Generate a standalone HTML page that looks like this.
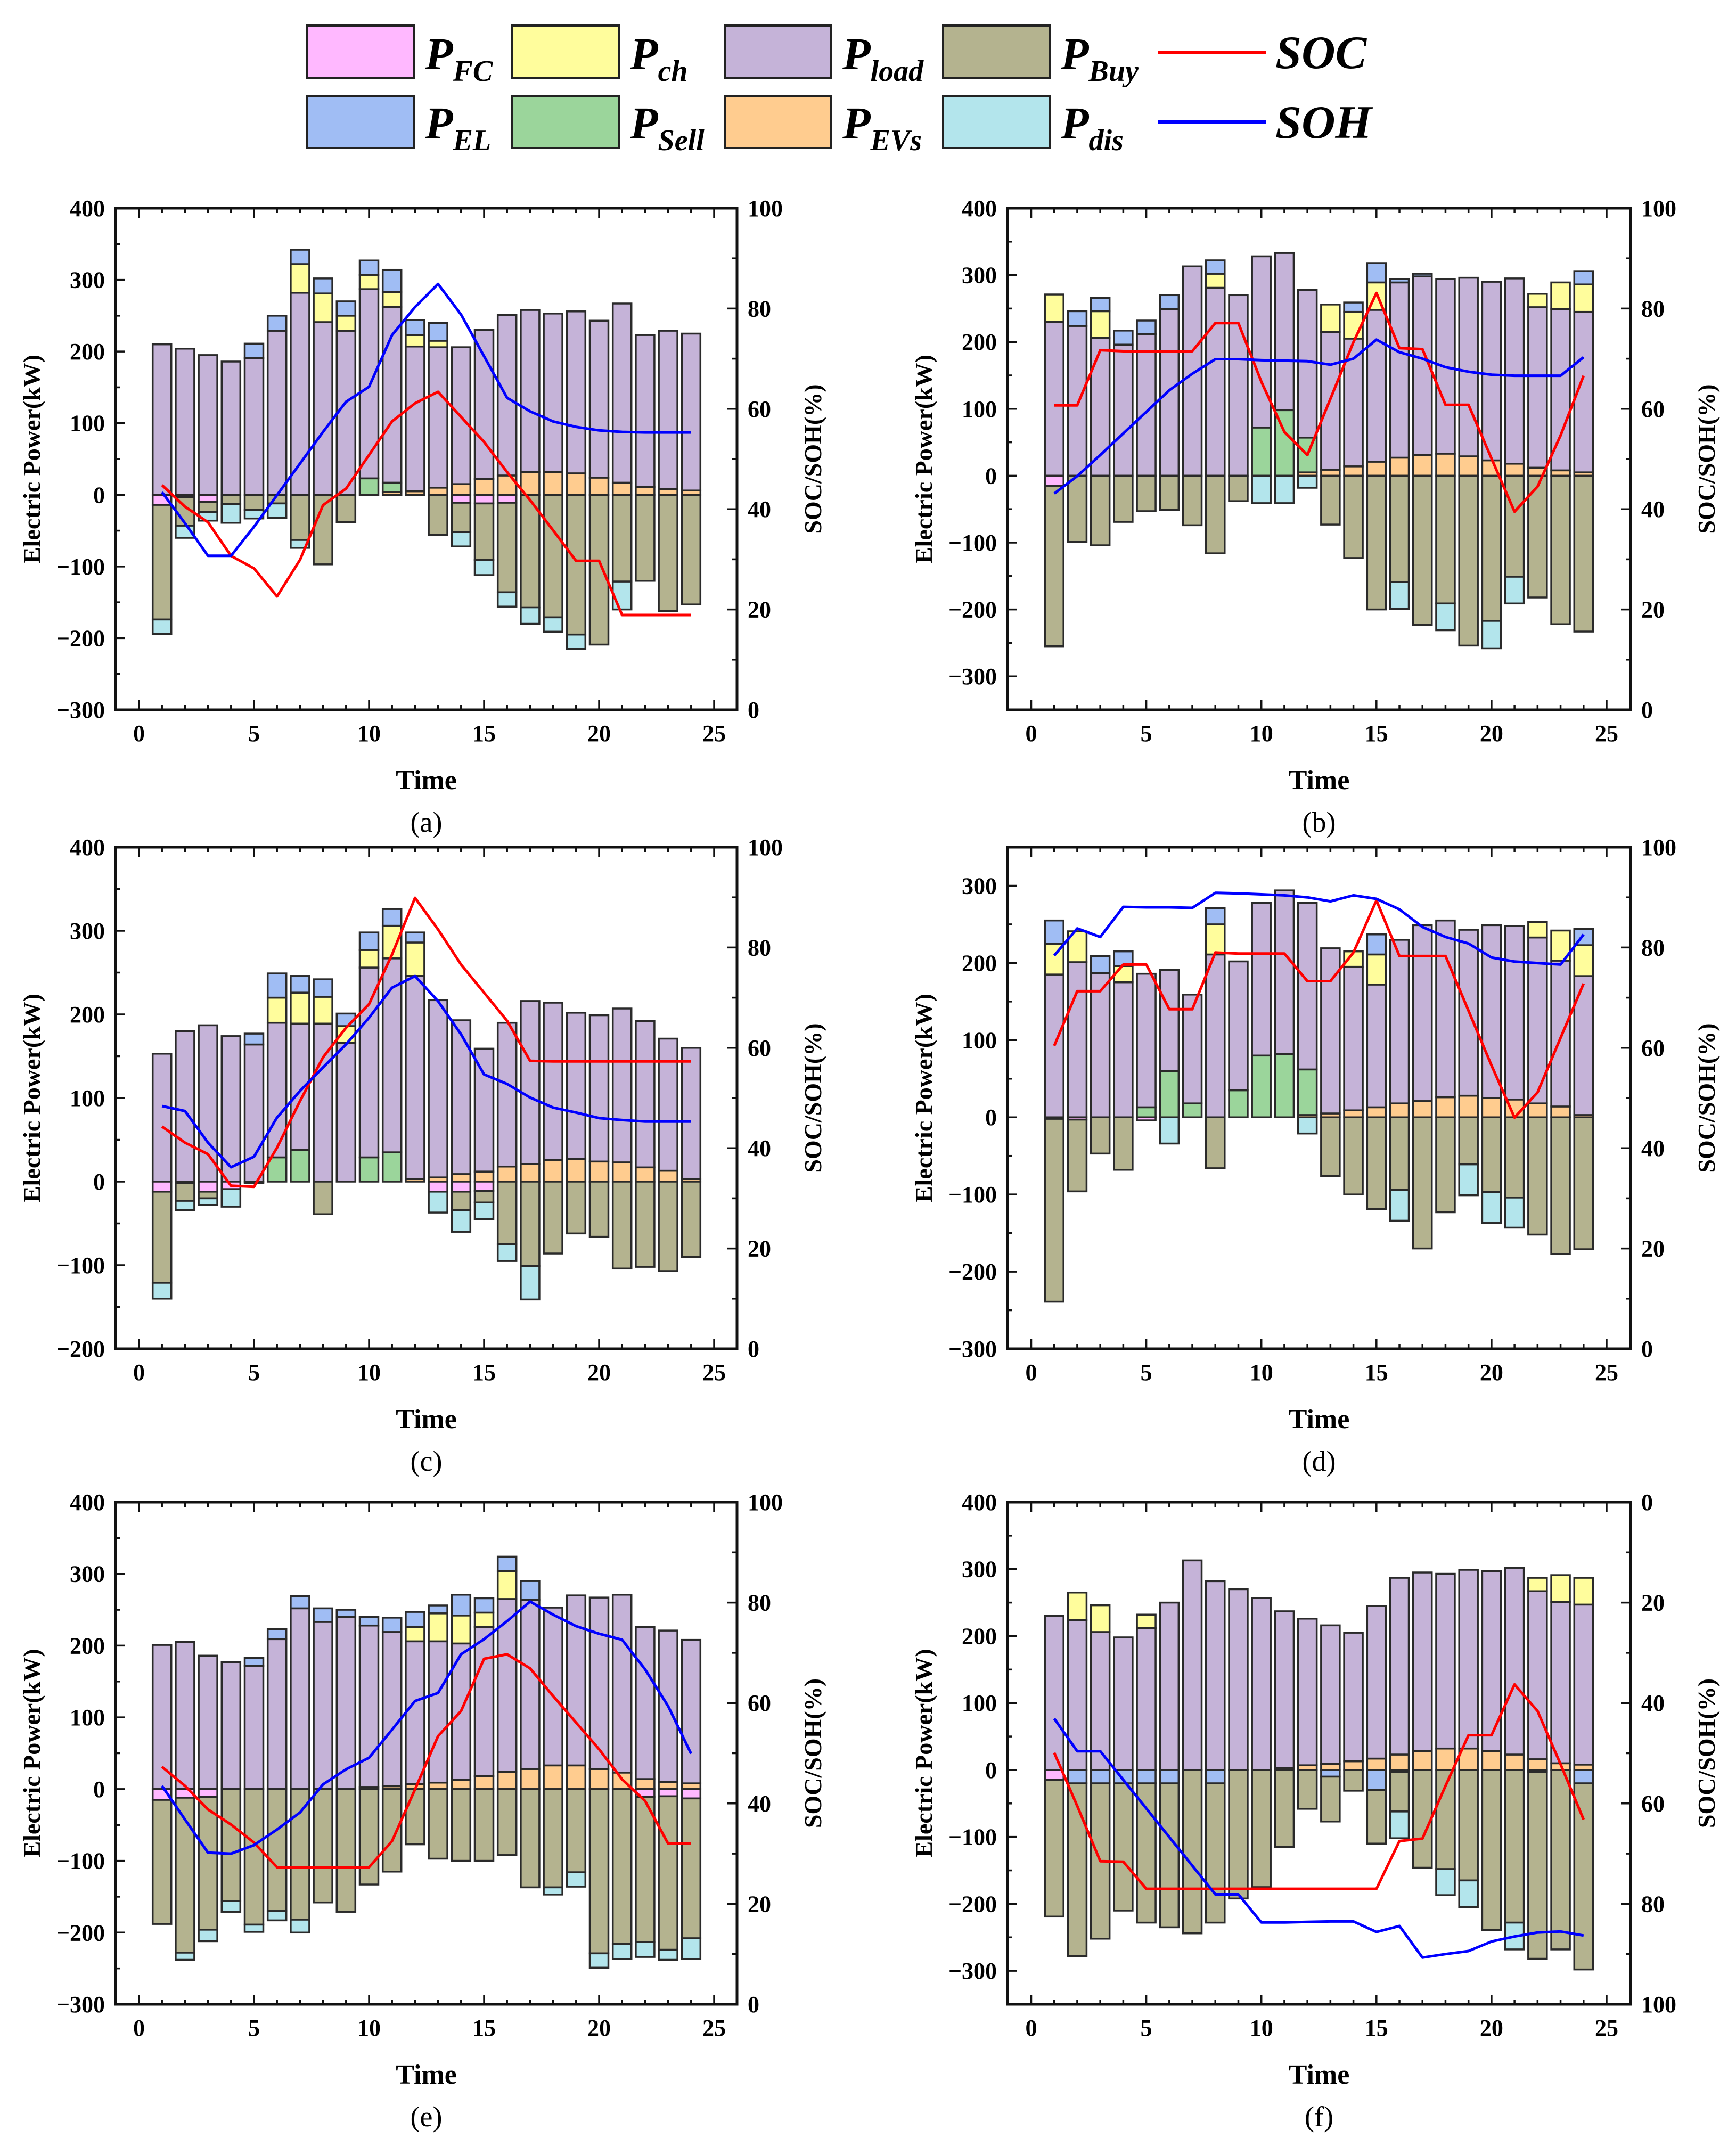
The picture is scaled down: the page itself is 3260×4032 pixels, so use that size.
<!DOCTYPE html>
<html><head><meta charset="utf-8"><title>Energy dispatch charts</title>
<style>
html,body{margin:0;padding:0;background:#fff;}
svg{display:block;}
.tk{font-family:"Liberation Serif",serif;font-weight:bold;font-size:44px;fill:#000;}
.ttl{font-family:"Liberation Serif",serif;font-weight:bold;font-size:52px;fill:#000;}
.cap{font-family:"Liberation Serif",serif;font-size:54px;fill:#000;}
.lg{font-family:"Liberation Serif",serif;font-weight:bold;font-style:italic;fill:#000;}
</style></head>
<body>
<svg id="chart" xmlns="http://www.w3.org/2000/svg" width="3260" height="4032" viewBox="0 0 3260 4032">
<rect x="0" y="0" width="3260" height="4032" fill="#fff"/>
<g>
 <rect x="577" y="48" width="200" height="99" fill="#FFB8FF" stroke="#222" stroke-width="4"/>
 <text class="lg" x="798" y="130" font-size="86">P<tspan font-size="56" dy="22">FC</tspan></text>
 <rect x="962" y="48" width="200" height="99" fill="#FFFD9C" stroke="#222" stroke-width="4"/>
 <text class="lg" x="1183" y="130" font-size="86">P<tspan font-size="56" dy="22">ch</tspan></text>
 <rect x="1361" y="48" width="200" height="99" fill="#C5B3D8" stroke="#222" stroke-width="4"/>
 <text class="lg" x="1582" y="130" font-size="86">P<tspan font-size="56" dy="22">load</tspan></text>
 <rect x="1771" y="48" width="200" height="99" fill="#B4B38F" stroke="#222" stroke-width="4"/>
 <text class="lg" x="1992" y="130" font-size="86">P<tspan font-size="56" dy="22">Buy</tspan></text>
 <line x1="2174" y1="98" x2="2378" y2="98" stroke="#FF0000" stroke-width="6"/>
 <text class="lg" x="2395" y="128" font-size="88">SOC</text>
 <rect x="577" y="180" width="200" height="98" fill="#A0BDF4" stroke="#222" stroke-width="4"/>
 <text class="lg" x="798" y="260" font-size="86">P<tspan font-size="56" dy="22">EL</tspan></text>
 <rect x="962" y="180" width="200" height="98" fill="#9BD59B" stroke="#222" stroke-width="4"/>
 <text class="lg" x="1183" y="260" font-size="86">P<tspan font-size="56" dy="22">Sell</tspan></text>
 <rect x="1361" y="180" width="200" height="98" fill="#FFCC8F" stroke="#222" stroke-width="4"/>
 <text class="lg" x="1582" y="260" font-size="86">P<tspan font-size="56" dy="22">EVs</tspan></text>
 <rect x="1771" y="180" width="200" height="98" fill="#B3E5EC" stroke="#222" stroke-width="4"/>
 <text class="lg" x="1992" y="260" font-size="86">P<tspan font-size="56" dy="22">dis</tspan></text>
 <line x1="2174" y1="229" x2="2378" y2="229" stroke="#0000FF" stroke-width="6"/>
 <text class="lg" x="2395" y="259" font-size="88">SOH</text>
</g>
</svg>
<script>
const hours = [1,2,3,4,5,6,7,8,9,10,11,12,13,14,15,16,17,18,19,20,21,22,23,24];

// ---- panel (a)
const a_EVs  = [0,0,0,0,0,0,0,0,0,0,4,5,10,15,22,27,32,32,30,24,17,11,8,6];
const a_Sell = [0,0,0,0,0,0,0,0,0,23,13,0,0,0,0,0,0,0,0,0,0,0,0,0];
const a_load = [210,204,195,186,191,229,282,241,229,264,245,202,196,191,208,224,226,221,226,219,250,212,221,219];
const a_ch   = [0,0,0,0,0,0,40,40,21,20,21,16,9,0,0,0,0,0,0,0,0,0,0,0];
const a_EL   = [0,0,0,0,20,21,20,21,20,20,31,21,25,0,0,0,0,0,0,0,0,0,0,0];
const a_FC   = [-14,-3,-10,0,0,0,0,0,0,0,0,0,0,-11,-12,-11,0,0,0,0,0,0,0,0];
const a_Buy  = [-160,-40,-14,-13,-21,-12,-63,-97,-38,0,0,0,-56,-41,-79,-125,-157,-171,-195,-209,-121,-120,-162,-153];
const a_dis  = [-20,-17,-12,-26,-12,-20,-11,0,0,0,0,0,0,-20,-21,-20,-23,-20,-20,0,-39,0,0,0];
const a_SOC  = [44.8,40.5,37.4,30.7,28.2,22.6,29.9,40.8,44.1,50.8,57.5,61.1,63.4,58.4,53.4,47.4,41.8,35.8,29.7,29.7,18.9,18.9,18.9,18.9];
const a_SOH  = [43.4,37.2,30.7,30.7,36.5,42.8,49.1,55.4,61.4,64.4,74.7,80.3,84.9,78.8,70.5,62.2,59.5,57.5,56.4,55.7,55.4,55.3,55.3,55.3];

// ---- panel (b)
const b_EVs  = [0,0,0,0,0,0,0,0,0,0,0,5,9,14,21,27,31,33,29,23,18,12,8,5];
const b_Sell = [0,0,0,0,0,0,0,0,0,72,98,52,0,0,0,0,0,0,0,0,0,0,0,0];
const b_load = [230,224,206,196,212,249,313,281,270,256,235,221,206,191,227,262,267,261,267,267,277,240,241,240];
const b_ch   = [41,0,40,0,0,0,0,21,0,0,0,0,41,40,41,0,0,0,0,0,0,20,40,41];
const b_EL   = [0,22,20,21,20,21,0,20,0,0,0,0,0,14,29,5,4,0,0,0,0,0,0,20];
const b_FC   = [-15,0,0,0,0,0,0,0,0,0,0,0,0,0,0,0,0,0,0,0,0,0,0,0];
const b_Buy  = [-240,-99,-104,-69,-53,-51,-74,-116,-38,0,0,0,-73,-123,-200,-159,-223,-191,-254,-217,-151,-182,-222,-233];
const b_dis  = [0,0,0,0,0,0,0,0,0,-41,-41,-18,0,0,0,-40,0,-40,0,-41,-40,0,0,0];
const b_SOC  = [60.7,60.7,71.7,71.5,71.5,71.5,71.5,77.1,77.1,65.4,55.4,50.8,62,73.3,83.1,72.1,71.9,60.8,60.8,50.1,39.5,44.5,54.7,66.6];
const b_SOH  = [43.1,46.6,50.8,55.1,59.4,63.7,67.0,69.9,69.9,69.7,69.6,69.5,68.8,70.0,73.8,71.3,70.0,68.3,67.4,66.8,66.6,66.6,66.6,70.3];

// ---- panel (c)
const c_EVs  = [0,0,0,0,0,0,0,0,0,0,0,3,5,9,12,18,21,26,27,24,23,17,13,3];
const c_Sell = [0,0,0,0,0,29,38,0,0,29,35,0,0,0,0,0,0,0,0,0,0,0,0,0];
const c_load = [153,180,187,174,164,161,151,189,166,227,232,243,212,184,147,172,195,188,175,175,184,175,158,157];
const c_ch   = [0,0,0,0,0,30,37,32,20,21,39,40,0,0,0,0,0,0,0,0,0,0,0,0];
const c_EL   = [0,0,0,0,13,29,20,21,15,21,20,12,0,0,0,0,0,0,0,0,0,0,0,0];
const c_FC   = [-12,-2,-12,-9,0,0,0,0,0,0,0,0,-12,-12,-11,0,0,0,0,0,0,0,0,0];
const c_Buy  = [-109,-21,-8,0,-2,0,0,-39,0,0,0,0,0,-22,-14,-75,-101,-86,-62,-66,-104,-102,-107,-90];
const c_dis  = [-19,-11,-8,-21,0,0,0,0,0,0,0,0,-25,-26,-20,-20,-40,0,0,0,0,0,0,0];
const c_SOC  = [44.3,41.1,38.8,32.5,32.3,40.1,49.4,58.1,64.0,68.7,78.6,89.9,83.6,76.6,71.0,65.4,57.4,57.3,57.3,57.3,57.3,57.3,57.3,57.3];
const c_SOH  = [48.4,47.4,41.1,36.2,38.3,46.1,51.4,56.1,60.7,66.0,72.0,74.3,69.3,62.7,54.7,52.8,50.1,48.1,47.1,46.0,45.6,45.3,45.3,45.3];

// ---- panel (d)
const d_EVs  = [0,0,0,0,0,0,0,0,0,0,0,3,5,9,13,18,21,26,28,25,23,18,14,3];
const d_Sell = [0,0,0,0,13,60,18,0,35,80,82,59,0,0,0,0,0,0,0,0,0,0,0,0];
const d_load = [185,201,187,175,173,131,141,211,167,198,212,216,214,186,159,212,228,229,215,224,225,215,189,180];
const d_ch   = [40,40,0,21,0,0,0,39,0,0,0,0,0,20,39,0,0,0,0,0,0,20,39,40];
const d_EL   = [30,0,22,19,0,0,0,21,0,0,0,0,0,0,26,0,0,0,0,0,0,0,0,21];
const d_FC   = [-2,-3,0,0,-4,0,0,0,0,0,0,0,0,0,0,0,0,0,0,0,0,0,0,0];
const d_Buy  = [-237,-93,-47,-68,0,0,0,-66,0,0,0,0,-76,-100,-119,-94,-170,-123,-61,-97,-104,-152,-177,-171];
const d_dis  = [0,0,0,0,0,-34,0,0,0,0,0,-21,0,0,0,-40,0,0,-40,-40,-39,0,0,0];
const d_SOC  = [60.4,71.3,71.3,76.6,76.6,67.7,67.7,79.0,78.8,78.8,78.8,73.3,73.3,79.0,89.4,78.3,78.3,78.3,67.4,56.5,46.1,51.1,62.0,72.8];
const d_SOH  = [78.4,83.8,82.1,88.1,88.0,88.0,87.9,90.9,90.8,90.6,90.4,90.0,89.2,90.4,89.7,87.6,84.1,82.1,80.8,78.0,77.2,76.9,76.6,82.6];

// ---- panel (e)
const e_EVs  = [0,0,0,0,0,0,0,0,0,3,4,7,9,13,18,24,28,33,33,28,23,14,10,8];
const e_Sell = [0,0,0,0,0,0,0,0,0,0,0,0,0,0,0,0,0,0,0,0,0,0,0,0];
const e_load = [201,205,186,177,172,209,252,233,240,225,215,199,197,190,208,241,236,220,237,239,248,212,211,200];
const e_ch   = [0,0,0,0,0,0,0,0,0,0,0,20,39,39,20,39,0,0,0,0,0,0,0,0];
const e_EL   = [0,0,0,0,11,14,17,19,10,12,20,21,11,29,20,20,26,0,0,0,0,0,0,0];
const e_FC   = [-15,-12,-11,0,0,0,0,0,0,0,0,0,0,0,0,0,0,0,0,0,0,-11,-10,-13];
const e_Buy  = [-173,-216,-185,-156,-189,-170,-182,-158,-171,-133,-115,-77,-97,-100,-100,-92,-137,-137,-116,-229,-216,-202,-214,-195];
const e_dis  = [0,-10,-16,-15,-10,-13,-18,0,0,0,0,0,0,0,0,0,0,-10,-20,-20,-21,-21,-14,-29];
const e_SOC  = [47.3,43.5,38.8,35.8,32.2,27.3,27.3,27.3,27.3,27.3,32.5,42.8,53.4,58.4,68.8,69.7,66.9,61.4,56.1,50.8,44.8,40.5,32.0,32.0];
const e_SOH  = [43.5,36.8,30.2,30.0,31.7,34.8,38.2,43.8,46.8,49.1,54.7,60.4,62.0,69.7,72.7,76.3,80.2,77.6,75.3,73.8,72.6,66.7,59.4,49.9];

// ---- panel (f)
const f_EVs  = [0,0,0,0,0,0,0,0,0,0,3,7,9,13,17,23,28,32,32,28,23,16,10,8];
const f_Sell = [0,0,0,0,0,0,0,0,0,0,0,0,0,0,0,0,0,0,0,0,0,0,0,0];
const f_load = [230,224,206,198,212,250,313,282,270,257,234,219,207,192,228,264,267,261,267,269,279,251,241,239];
const f_ch   = [0,41,40,0,20,0,0,0,0,0,0,0,0,0,0,0,0,0,0,0,0,20,40,40];
const f_EL   = [0,-20,-20,-20,-20,-20,0,-20,0,0,0,0,-10,0,-30,-3,0,0,0,0,0,-3,0,-20];
const f_FC   = [-15,0,0,0,0,0,0,0,0,0,0,0,0,0,0,0,0,0,0,0,0,0,0,0];
const f_Buy  = [-204,-258,-232,-190,-208,-215,-244,-208,-192,-175,-115,-58,-67,-31,-80,-59,-146,-148,-165,-239,-228,-279,-268,-278];
const f_dis  = [0,0,0,0,0,0,0,0,0,0,0,0,0,0,0,-40,0,-39,-40,0,-40,0,0,0];
const f_SOC  = [49.9,60.5,71.5,71.6,77.0,77.0,77.0,77.0,77.0,77.0,77.0,77.0,77.0,77.0,77.0,67.5,67.0,56.5,46.4,46.4,36.3,41.6,52.2,63.2];
const f_SOH  = [43.1,49.6,49.6,55.3,61.0,66.7,72.4,78.1,78.1,83.7,83.7,83.6,83.5,83.5,85.6,84.4,90.7,90.0,89.4,87.5,86.5,85.7,85.5,86.3];

const xTicks = [0,5,10,15,20,25];
const rightTicks = [0,20,40,60,80,100];

const COLORS = {EVs:'#FFCC8F',Sell:'#9BD59B',load:'#C5B3D8',ch:'#FFFD9C',EL:'#A0BDF4',FC:'#FFB8FF',Buy:'#B4B38F',dis:'#B3E5EC'};
const POS_ORDER = ['EVs','Sell','load','ch','EL'];
const NEG_ORDER = ['FC','EL','Buy','dis'];

const NS = 'http://www.w3.org/2000/svg';
const svg = document.getElementById('chart');
function mk(tag, attrs, parent){
  const e = document.createElementNS(NS, tag);
  for (const k in attrs) e.setAttribute(k, attrs[k]);
  parent.appendChild(e);
  return e;
}

const COLA = {x0:217, x1:1384, t0:261, t25:1341};
const COLB = {x0:1892, x1:3062, t0:1936.5, t25:3017};
const ROW1 = {y0:391, y1:1333};
const ROW2 = {y0:1591, y1:2533};
const ROW3 = {y0:2821, y1:3764};

const panels = [
 {id:'a', col:COLA, row:ROW1, ymin:-300, ymax:400, rev:false, s:{EVs:a_EVs,Sell:a_Sell,load:a_load,ch:a_ch,EL:a_EL,FC:a_FC,Buy:a_Buy,dis:a_dis}, soc:a_SOC, soh:a_SOH},
 {id:'b', col:COLB, row:ROW1, ymin:-350, ymax:400, rev:false, s:{EVs:b_EVs,Sell:b_Sell,load:b_load,ch:b_ch,EL:b_EL,FC:b_FC,Buy:b_Buy,dis:b_dis}, soc:b_SOC, soh:b_SOH},
 {id:'c', col:COLA, row:ROW2, ymin:-200, ymax:400, rev:false, s:{EVs:c_EVs,Sell:c_Sell,load:c_load,ch:c_ch,EL:c_EL,FC:c_FC,Buy:c_Buy,dis:c_dis}, soc:c_SOC, soh:c_SOH},
 {id:'d', col:COLB, row:ROW2, ymin:-300, ymax:350, rev:false, s:{EVs:d_EVs,Sell:d_Sell,load:d_load,ch:d_ch,EL:d_EL,FC:d_FC,Buy:d_Buy,dis:d_dis}, soc:d_SOC, soh:d_SOH},
 {id:'e', col:COLA, row:ROW3, ymin:-300, ymax:400, rev:false, s:{EVs:e_EVs,Sell:e_Sell,load:e_load,ch:e_ch,EL:e_EL,FC:e_FC,Buy:e_Buy,dis:e_dis}, soc:e_SOC, soh:e_SOH},
 {id:'f', col:COLB, row:ROW3, ymin:-350, ymax:400, rev:true,  s:{EVs:f_EVs,Sell:f_Sell,load:f_load,ch:f_ch,EL:f_EL,FC:f_FC,Buy:f_Buy,dis:f_dis}, soc:f_SOC, soh:f_SOH}
];

function drawPanel(p){
  const x0=p.col.x0, x1=p.col.x1, y0=p.row.y0, y1=p.row.y1;
  const X = t => p.col.t0 + t*(p.col.t25 - p.col.t0)/25;
  const Y = v => y1 - (v - p.ymin)/(p.ymax - p.ymin)*(y1 - y0);
  const R = v => p.rev ? y0 + v/100*(y1 - y0) : y1 - v/100*(y1 - y0);
  const bw = 35;

  const g = mk('g', {}, svg);
  
  

  hours.forEach((t, i) => {
    let pos = 0, neg = 0;
    POS_ORDER.forEach(k => {
      const v = p.s[k][i];
      if (v > 0) {
        const r = mk('rect', {x: X(t)-bw/2, y: Y(pos+v), width: bw, height: Y(pos)-Y(pos+v), fill: COLORS[k], stroke:'#2a2a2a', 'stroke-width':3.5}, g);
        
        
        pos += v;
      }
    });
    NEG_ORDER.forEach(k => {
      const v = p.s[k][i];
      if (v < 0) {
        const r = mk('rect', {x: X(t)-bw/2, y: Y(neg), width: bw, height: Y(neg+v)-Y(neg), fill: COLORS[k], stroke:'#2a2a2a', 'stroke-width':3.5}, g);
        
        
        neg += v;
      }
    });
  });

  const socPts = hours.map((t,i) => X(t).toFixed(1) + ',' + R(p.soc[i]).toFixed(1)).join(' ');
  const soc = mk('polyline', {points: socPts, fill:'none', stroke:'#FF0000', 'stroke-width':5, 'stroke-linejoin':'round'}, g);
  
  
  const sohPts = hours.map((t,i) => X(t).toFixed(1) + ',' + R(p.soh[i]).toFixed(1)).join(' ');
  const soh = mk('polyline', {points: sohPts, fill:'none', stroke:'#0000FF', 'stroke-width':5, 'stroke-linejoin':'round'}, g);
  
  

  // ticks
  const ticks = mk('g', {stroke:'#111', 'stroke-width':3.5}, g);
  
  
  for (let t = 0; t <= 25; t++) {
    const L = (t % 5 === 0) ? 18 : 9;
    mk('line', {x1:X(t), y1:y1, x2:X(t), y2:y1-L}, ticks);
    mk('line', {x1:X(t), y1:y0, x2:X(t), y2:y0+L}, ticks);
  }
  for (let v = Math.ceil(p.ymin/50)*50; v <= p.ymax; v += 50) {
    const L = (v % 100 === 0) ? 18 : 9;
    mk('line', {x1:x0, y1:Y(v), x2:x0+L, y2:Y(v)}, ticks);
  }
  for (let v = 0; v <= 100; v += 10) {
    const L = (v % 20 === 0) ? 18 : 9;
    mk('line', {x1:x1, y1:R(v), x2:x1-L, y2:R(v)}, ticks);
  }

  const frame = mk('rect', {x:x0, y:y0, width:x1-x0, height:y1-y0, fill:'none', stroke:'#111', 'stroke-width':5}, g);
  
  

  xTicks.forEach(t => {
    const tx = mk('text', {x:X(t), y:y1+59, 'text-anchor':'middle', class:'tk'}, g);
    
    
    tx.textContent = String(t);
  });
  for (let v = Math.ceil(p.ymin/100)*100; v <= p.ymax; v += 100) {
    const tx = mk('text', {x:x0-20, y:Y(v)+15, 'text-anchor':'end', class:'tk'}, g);
    
    
    tx.textContent = v < 0 ? '\u2212' + Math.abs(v) : String(v);
  }
  rightTicks.forEach(v => {
    const tx = mk('text', {x:x1+20, y:R(v)+15, 'text-anchor':'start', class:'tk'}, g);
    
    
    tx.textContent = String(v);
  });

  const cx = (x0+x1)/2;
  const xt = mk('text', {x:cx, y:y1+149, 'text-anchor':'middle', class:'ttl'}, g);
  
  
  xt.textContent = 'Time';
  const cap = mk('text', {x:cx, y:y1+229, 'text-anchor':'middle', class:'cap'}, g);
  
  
  cap.textContent = '(' + p.id + ')';

  const cy = (y0+y1)/2;
  const yl = mk('text', {x:x0-142, y:cy, 'text-anchor':'middle', class:'ttl', 'font-size':46, transform:'rotate(-90 ' + (x0-142) + ' ' + cy + ')'}, g);
  
  
  yl.setAttribute('style', 'font-size:46px');
  yl.textContent = 'Electric Power(kW)';
  const yr = mk('text', {x:x1+158, y:cy, 'text-anchor':'middle', class:'ttl', transform:'rotate(-90 ' + (x1+158) + ' ' + cy + ')'}, g);
  
  
  yr.setAttribute('style', 'font-size:46px');
  yr.textContent = 'SOC/SOH(%)';
}

panels.forEach(drawPanel);
</script>
</body></html>
